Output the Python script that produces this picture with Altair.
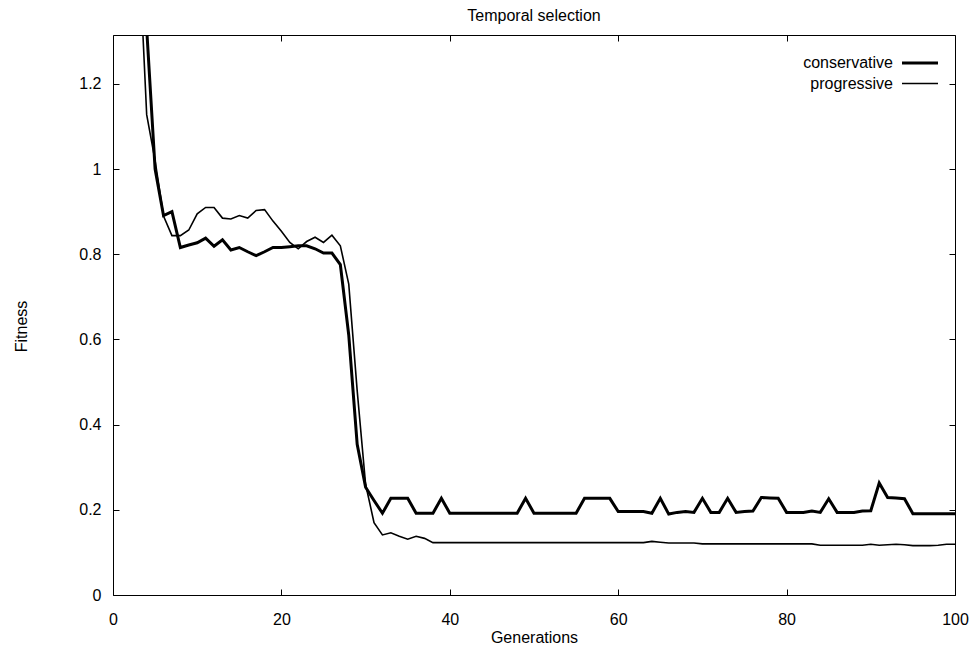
import altair as alt
import pandas as pd

FONT = "Liberation Sans"

generations = list(range(0, 101))

conservative = [
    2.60, 2.20, 1.90, 1.62, 1.33, 1.00, 0.891, 0.900, 0.816, 0.822,
    0.827, 0.838, 0.819, 0.834, 0.810, 0.816, 0.806, 0.797, 0.806, 0.816,
    0.816, 0.818, 0.820, 0.820, 0.813, 0.803, 0.803, 0.776, 0.610, 0.354,
    0.253, 0.222, 0.192, 0.227, 0.227, 0.227, 0.192, 0.192, 0.192, 0.227,
    0.192, 0.192, 0.192, 0.192, 0.192, 0.192, 0.192, 0.192, 0.192, 0.227,
    0.192, 0.192, 0.192, 0.192, 0.192, 0.192, 0.227, 0.227, 0.227, 0.227,
    0.196, 0.196, 0.196, 0.196, 0.192, 0.227, 0.190, 0.194, 0.196, 0.194,
    0.227, 0.194, 0.194, 0.227, 0.194, 0.196, 0.197, 0.229, 0.228, 0.227,
    0.194, 0.194, 0.194, 0.197, 0.194, 0.226, 0.194, 0.194, 0.194, 0.197,
    0.198, 0.263, 0.229, 0.228, 0.226, 0.191, 0.191, 0.191, 0.191, 0.191,
    0.191,
]

progressive = [
    2.40, 2.05, 1.80, 1.55, 1.128, 1.02, 0.890, 0.844, 0.844, 0.857,
    0.895, 0.910, 0.910, 0.885, 0.883, 0.891, 0.885, 0.903, 0.905, 0.878,
    0.854, 0.828, 0.813, 0.830, 0.840, 0.828, 0.845, 0.820, 0.730, 0.480,
    0.260, 0.170, 0.141, 0.146, 0.138, 0.131, 0.138, 0.133, 0.123, 0.123,
    0.123, 0.123, 0.123, 0.123, 0.123, 0.123, 0.123, 0.123, 0.123, 0.123,
    0.123, 0.123, 0.123, 0.123, 0.123, 0.123, 0.123, 0.123, 0.123, 0.123,
    0.123, 0.123, 0.123, 0.123, 0.126, 0.124, 0.122, 0.122, 0.122, 0.122,
    0.120, 0.120, 0.120, 0.120, 0.120, 0.120, 0.120, 0.120, 0.120, 0.120,
    0.120, 0.120, 0.120, 0.120, 0.117, 0.117, 0.117, 0.117, 0.117, 0.117,
    0.119, 0.117, 0.118, 0.119, 0.118, 0.116, 0.116, 0.116, 0.117, 0.119,
    0.119,
]

series_names = ["conservative", "progressive"]
line_widths = [3.0, 1.6]
x_ticks = [0, 20, 40, 60, 80, 100]
y_ticks = [0, 0.2, 0.4, 0.6, 0.8, 1.0, 1.2]
x_domain = [0, 100]
y_domain = [0, 1.315]

rows = []
for g, c, p in zip(generations, conservative, progressive):
    rows.append({"gen": g, "fitness": c, "series": "conservative"})
    rows.append({"gen": g, "fitness": p, "series": "progressive"})
df = pd.DataFrame(rows)
legend_df = pd.DataFrame({"series": series_names})

width_scale = alt.Scale(domain=series_names, range=line_widths)

lines = alt.Chart(df).mark_line(color="black", clip=True).encode(
    x=alt.X(
        "gen:Q",
        scale=alt.Scale(domain=x_domain, nice=False, zero=False),
        axis=alt.Axis(
            orient="bottom", values=x_ticks, offset=-6, tickSize=6,
            domain=False, grid=False, labelPadding=16, title="Generations",
            titleBaseline="middle", titleY=48, labelFlush=False,
            labelOverlap=False,
        ),
    ),
    y=alt.Y(
        "fitness:Q",
        scale=alt.Scale(domain=y_domain, nice=False, zero=False),
        axis=alt.Axis(
            orient="left", values=y_ticks, format="~g", offset=-6, tickSize=6,
            domain=False, grid=False, labelPadding=12, title="Fitness",
            titleBaseline="middle", titleX=-98, titleY=291, titleAngle=-90,
            labelFlush=False, labelOverlap=False,
        ),
    ),
    strokeWidth=alt.StrokeWidth("series:N", scale=width_scale, legend=None),
)

mirror = alt.Chart(df).mark_line(color="black", opacity=0, clip=True).encode(
    x=alt.X(
        "gen:Q",
        scale=alt.Scale(domain=x_domain, nice=False, zero=False),
        axis=alt.Axis(
            orient="top", values=x_ticks, offset=-6, tickSize=6,
            domain=False, grid=False, labels=False, title=None,
        ),
    ),
    y=alt.Y(
        "fitness:Q",
        scale=alt.Scale(domain=y_domain, nice=False, zero=False),
        axis=alt.Axis(
            orient="right", values=y_ticks, offset=-6, tickSize=6,
            domain=False, grid=False, labels=False, title=None,
        ),
    ),
    detail="series:N",
)

legend_y = alt.Y(
    "series:N",
    scale=alt.Scale(type="point", domain=series_names, range=[28, 48.5], padding=0),
    axis=None,
)

legend_lines = alt.Chart(legend_df).mark_rule(color="black").encode(
    x=alt.value(789),
    x2=alt.value(825),
    y=legend_y,
    strokeWidth=alt.StrokeWidth("series:N", scale=width_scale, legend=None),
)

legend_text = alt.Chart(legend_df).mark_text(
    align="right", baseline="middle", font=FONT, fontSize=16, color="black"
).encode(
    x=alt.value(780),
    y=legend_y,
    text="series:N",
)

chart = (
    alt.layer(lines, mirror, legend_lines, legend_text)
    .resolve_scale(x="independent", y="independent", strokeWidth="shared")
    .properties(
        width=842,
        height=560,
        autosize=alt.AutoSizeParams(type="none"),
        padding={"left": 113, "top": 35, "right": 23, "bottom": 60},
        title=alt.TitleParams(
            "Temporal selection", fontSize=16, fontWeight="normal",
            font=FONT, color="black", anchor="middle", offset=11,
        ),
        background="white",
    )
    .configure_view(stroke="black", strokeWidth=1)
    .configure_axis(
        labelFont=FONT, titleFont=FONT, labelFontSize=16, titleFontSize=16,
        titleFontWeight="normal", labelColor="black", titleColor="black",
        tickColor="black", tickWidth=1,
    )
)

chart.save("out.html", embed_options={"renderer": "svg", "actions": False})
